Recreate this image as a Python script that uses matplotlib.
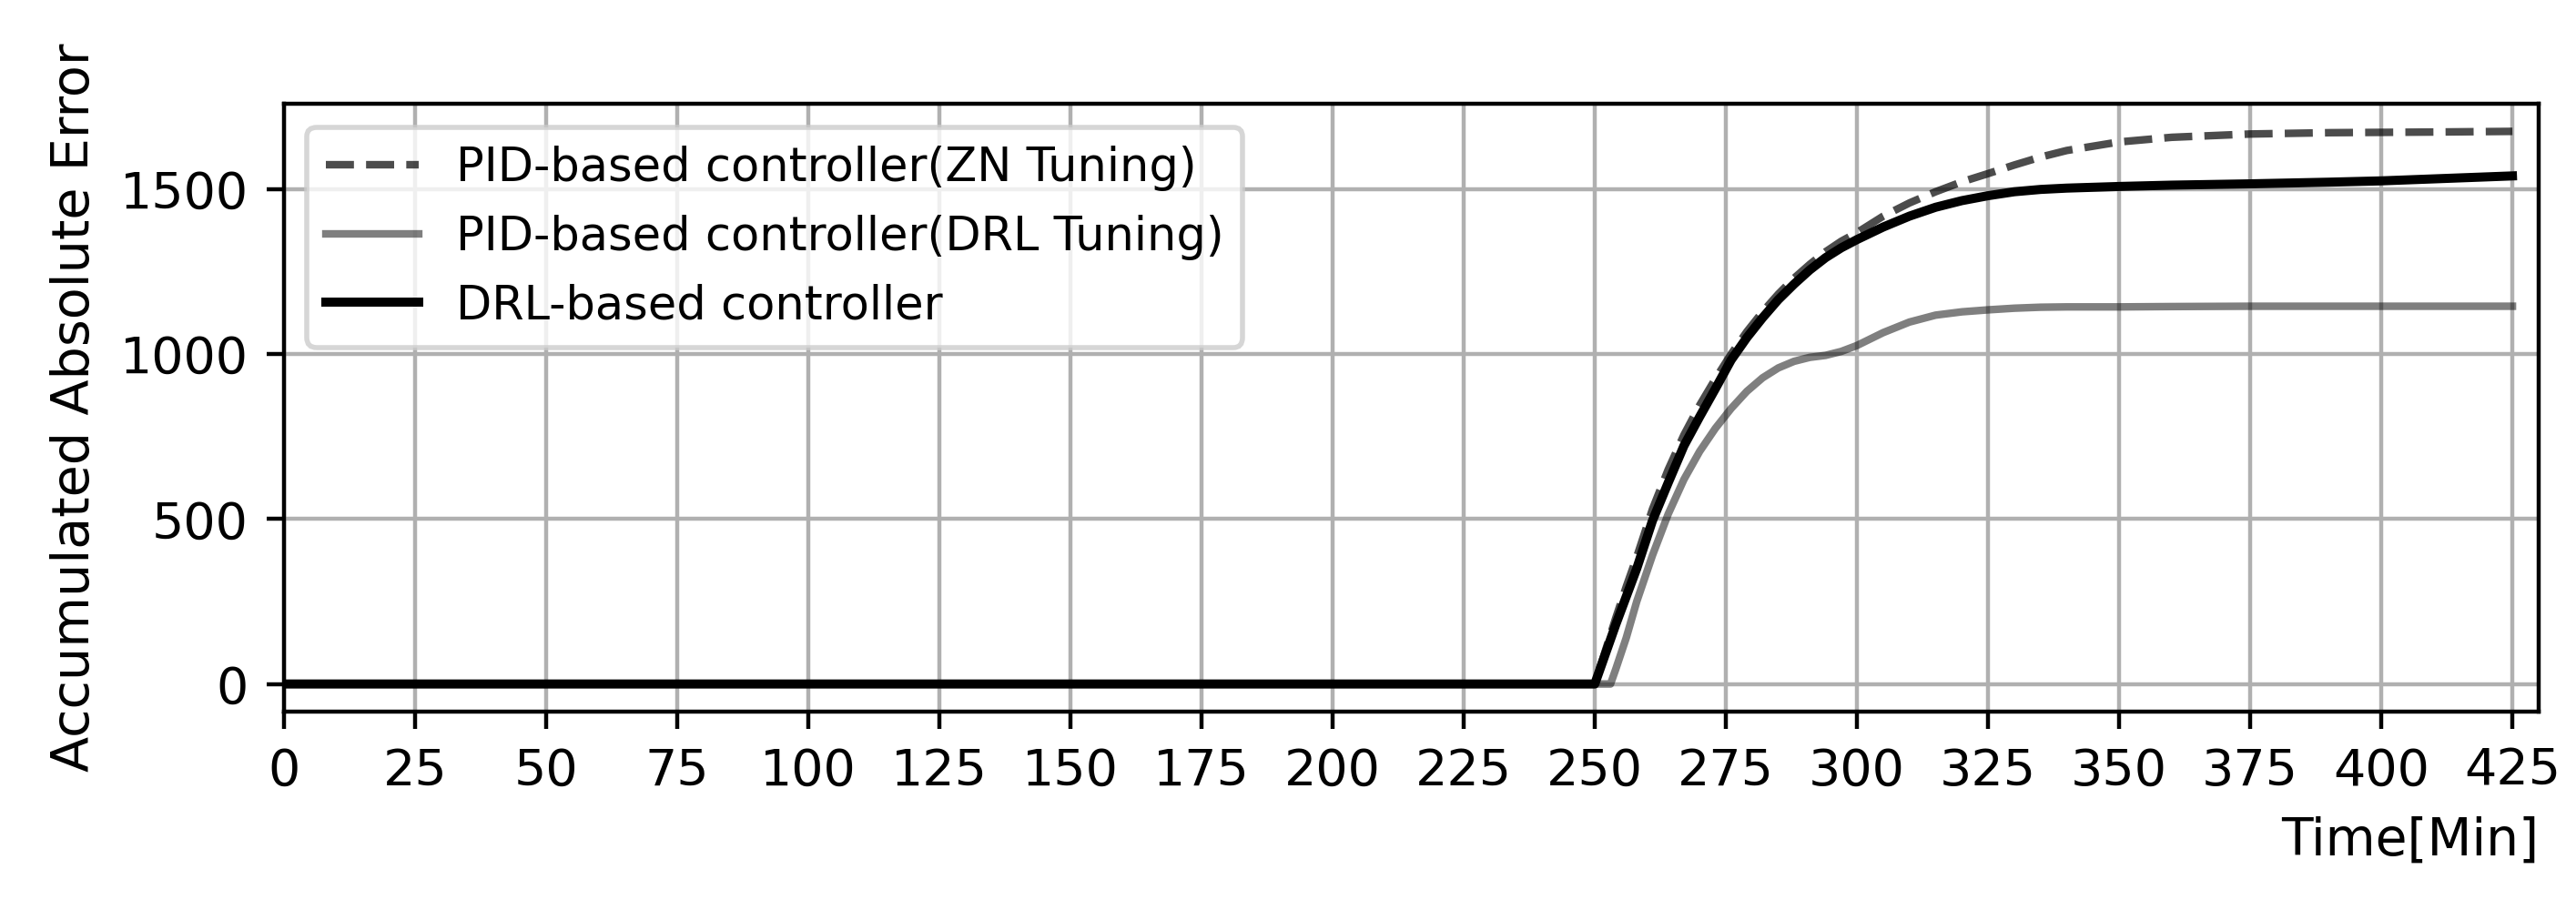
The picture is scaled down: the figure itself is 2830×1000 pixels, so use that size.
import matplotlib
matplotlib.use("Agg")
import matplotlib.pyplot as plt

# Time axis (minutes) shared by all three series
time_min = [0, 250, 252, 253, 254, 256, 258, 261, 264, 267, 270, 273, 276, 279,
            282, 285, 288, 291, 294, 297, 300, 305, 310, 315, 320, 325, 330,
            335, 340, 350, 360, 375, 390, 400, 410, 425]

# PID-based controller (ZN tuning) - dashed
pid_zn = [0, 0, 100, 150, 200, 295, 385, 530, 650, 755, 845, 925, 1000, 1068,
          1128, 1182, 1230, 1272, 1310, 1342, 1368, 1418, 1458, 1492, 1522, 1547,
          1573, 1597, 1617, 1643, 1657, 1667, 1671, 1672, 1673, 1675]

# PID-based controller (DRL tuning) - gray
pid_drl = [0, 0, 0, 0, 45, 140, 250, 390, 515, 620, 705, 775, 835, 887,
           928, 958, 978, 990, 996, 1008, 1026, 1065, 1097, 1118, 1128, 1134,
           1139, 1142, 1143, 1143, 1144, 1145, 1145, 1145, 1145, 1145]

# DRL-based controller - black
drl_ctrl = [0, 0, 90, 135, 180, 265, 350, 495, 610, 722, 810, 895, 982, 1050,
            1110, 1165, 1212, 1255, 1292, 1322, 1347, 1385, 1418, 1445, 1465, 1480,
            1492, 1499, 1503, 1508, 1512, 1516, 1521, 1525, 1531, 1540]

labels = ["PID-based controller(ZN Tuning)",
          "PID-based controller(DRL Tuning)",
          "DRL-based controller"]
x_ticks = list(range(0, 426, 25))
y_ticks = [0, 500, 1000, 1500]

fig = plt.figure(figsize=(7.075, 2.5), dpi=400)
ax = fig.add_axes([0.1102, 0.218, 0.8753, 0.668])

ax.plot(time_min, pid_zn, linestyle="--", color="k", alpha=0.7, lw=1.5, label=labels[0])
ax.plot(time_min, pid_drl, linestyle="-", color="k", alpha=0.5, lw=1.5, label=labels[1])
ax.plot(time_min, drl_ctrl, linestyle="-", color="k", lw=1.8, label=labels[2])

ax.set_xlim(0, 430)
ax.set_xticks(x_ticks)
ax.set_yticks(y_ticks)
ax.grid(True)
ax.set_xlabel("Time[Min]", loc="right", fontsize=10.2)
ax.set_ylabel("Accumulated Absolute Error", fontsize=10.3)
ax.legend(loc="upper left", fontsize=9.2)

fig.savefig("out.png", dpi=400)
